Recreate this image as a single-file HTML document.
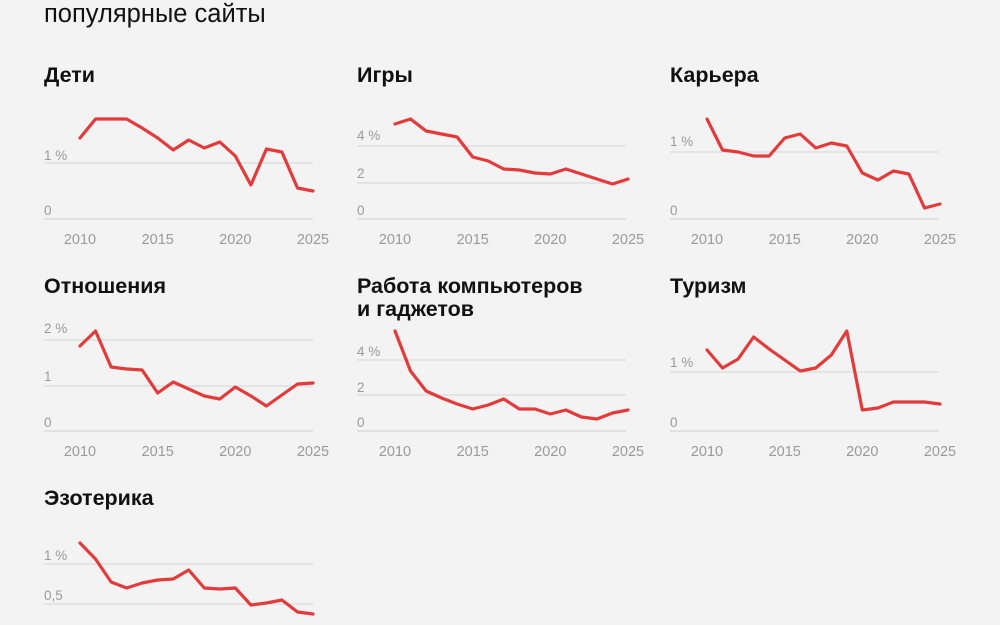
<!DOCTYPE html>
<html><head><meta charset="utf-8"><style>
body{margin:0;background:#f3f3f3;}
svg{display:block;font-family:"Liberation Sans","DejaVu Sans",sans-serif;}
.t{font-size:21.5px;font-weight:bold;fill:#111;}
.g{stroke:#d6d6d6;stroke-width:1;}
.a{stroke:#cfcfcf;stroke-width:1;}
.y{font-size:13.5px;fill:#9a9a9a;}
.x{font-size:14.5px;fill:#9a9a9a;text-anchor:middle;}
.l{fill:none;stroke:#e33b3b;stroke-width:3.2;stroke-linejoin:round;stroke-linecap:round;}
</style></head><body>
<svg width="1000" height="625" viewBox="0 0 1000 625">
<rect width="1000" height="625" fill="#f3f3f3"/>
<text x="44" y="22" font-size="25.5" fill="#111">популярные сайты</text>

<g>
<text class="t" x="44" y="82">Дети</text>
<line class="g" x1="44" x2="313" y1="163" y2="163"/>
<line class="a" x1="44" x2="313" y1="219" y2="219"/>
<text class="y" x="44" y="160">1 %</text><text class="y" x="44" y="215">0</text>
<text class="x" x="80" y="244">2010</text><text class="x" x="157.7" y="244">2015</text><text class="x" x="235.3" y="244">2020</text><text class="x" x="313" y="244">2025</text>
<polyline class="l" points="80,138 95.5,119 111.1,119 126.6,119 142.1,128 157.7,138 173.2,150 188.7,140 204.3,148 219.8,142 235.3,156 250.9,185 266.4,149 281.9,152 297.5,188 313,191"/>
</g>
<g transform="translate(313,0)">
<text class="t" x="44" y="82">Игры</text>
<line class="g" x1="44" x2="313" y1="146" y2="146"/>
<line class="g" x1="44" x2="313" y1="183" y2="183"/>
<line class="a" x1="44" x2="313" y1="219" y2="219"/>
<text class="y" x="44" y="140">4 %</text><text class="y" x="44" y="178">2</text><text class="y" x="44" y="215">0</text>
</g>
<g transform="translate(315,0)">
<text class="x" x="80" y="244">2010</text><text class="x" x="157.7" y="244">2015</text><text class="x" x="235.3" y="244">2020</text><text class="x" x="313" y="244">2025</text>
<polyline class="l" points="80,124 95.5,119 111.1,131 126.6,134 142.1,137 157.7,157 173.2,161 188.7,169 204.3,170 219.8,173 235.3,174 250.9,169 266.4,174 281.9,179 297.5,184 313,179"/>
</g>
<g transform="translate(626,0)">
<text class="t" x="44" y="82">Карьера</text>
<line class="g" x1="44" x2="313" y1="152" y2="152"/>
<line class="a" x1="44" x2="313" y1="219" y2="219"/>
<text class="y" x="44" y="146">1 %</text><text class="y" x="44" y="215">0</text>
</g>
<g transform="translate(627,0)">
<text class="x" x="80" y="244">2010</text><text class="x" x="157.7" y="244">2015</text><text class="x" x="235.3" y="244">2020</text><text class="x" x="313" y="244">2025</text>
<polyline class="l" points="80,119 95.5,150 111.1,152 126.6,156 142.1,156 157.7,138 173.2,134 188.7,148 204.3,143 219.8,146 235.3,173 250.9,180 266.4,171 281.9,174 297.5,208 313,204"/>
</g>

<g>
<text class="t" x="44" y="293">Отношения</text>
<line class="g" x1="44" x2="313" y1="340" y2="340"/>
<line class="g" x1="44" x2="313" y1="386" y2="386"/>
<line class="a" x1="44" x2="313" y1="431" y2="431"/>
<text class="y" x="44" y="333">2 %</text><text class="y" x="44" y="381">1</text><text class="y" x="44" y="427">0</text>
<text class="x" x="80" y="456">2010</text><text class="x" x="157.7" y="456">2015</text><text class="x" x="235.3" y="456">2020</text><text class="x" x="313" y="456">2025</text>
<polyline class="l" points="80,346 95.5,331 111.1,367 126.6,369 142.1,370 157.7,393 173.2,382 188.7,389 204.3,396 219.8,399 235.3,387 250.9,396 266.4,406 281.9,395 297.5,384 313,383"/>
</g>
<g transform="translate(313,0)">
<text class="t" x="44" y="293">Работа компьютеров</text>
<text class="t" x="44" y="316">и гаджетов</text>
<line class="g" x1="44" x2="313" y1="360" y2="360"/>
<line class="g" x1="44" x2="313" y1="395" y2="395"/>
<line class="a" x1="44" x2="313" y1="431" y2="431"/>
<text class="y" x="44" y="356">4 %</text><text class="y" x="44" y="392">2</text><text class="y" x="44" y="427">0</text>
</g>
<g transform="translate(315,0)">
<text class="x" x="80" y="456">2010</text><text class="x" x="157.7" y="456">2015</text><text class="x" x="235.3" y="456">2020</text><text class="x" x="313" y="456">2025</text>
<polyline class="l" points="80,331 95.5,371 111.1,391 126.6,398 142.1,404 157.7,409 173.2,405 188.7,399 204.3,409 219.8,409 235.3,414 250.9,410 266.4,417 281.9,419 297.5,413 313,410"/>
</g>
<g transform="translate(626,0)">
<text class="t" x="44" y="293">Туризм</text>
<line class="g" x1="44" x2="313" y1="372" y2="372"/>
<line class="a" x1="44" x2="313" y1="431" y2="431"/>
<text class="y" x="44" y="367">1 %</text><text class="y" x="44" y="427">0</text>
</g>
<g transform="translate(627,0)">
<text class="x" x="80" y="456">2010</text><text class="x" x="157.7" y="456">2015</text><text class="x" x="235.3" y="456">2020</text><text class="x" x="313" y="456">2025</text>
<polyline class="l" points="80,350 95.5,368 111.1,359 126.6,337 142.1,349 157.7,360 173.2,371 188.7,368 204.3,355 219.8,331 235.3,410 250.9,408 266.4,402 281.9,402 297.5,402 313,404"/>
</g>

<g>
<text class="t" x="44" y="505">Эзотерика</text>
<line class="g" x1="44" x2="313" y1="564" y2="564"/>
<line class="g" x1="44" x2="313" y1="604" y2="604"/>
<text class="y" x="44" y="560">1 %</text><text class="y" x="44" y="600">0,5</text>
<polyline class="l" points="80,543 95.5,559 111.1,582 126.6,588 142.1,583 157.7,580 173.2,579 188.7,570 204.3,588 219.8,589 235.3,588 250.9,605 266.4,603 281.9,600 297.5,612 313,614"/>
</g>
</svg>
</body></html>
